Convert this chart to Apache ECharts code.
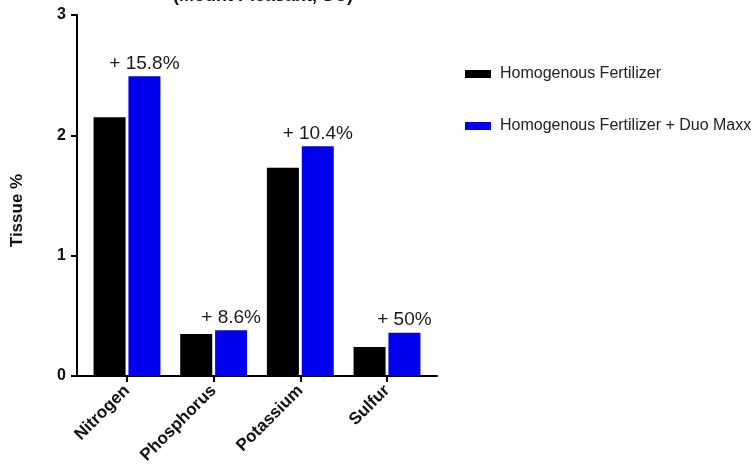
<!DOCTYPE html>
<html>
<head>
<meta charset="utf-8">
<script src="https://cdn.jsdelivr.net/npm/echarts@6/dist/echarts.min.js"></script>
<style>
  html, body { margin: 0; padding: 0; background: #fff; }
  #chart { width: 753px; height: 473px; }
</style>
</head>
<body>
<div id="chart"></div>
<script>
// Leaf tissue nutrient levels, Mount Pleasant, SC
const categories = ['Nitrogen', 'Phosphorus', 'Potassium', 'Sulfur'];
const homogenous = [2.15, 0.35, 1.73, 0.24];
const withDuoMaxx = [2.49, 0.38, 1.91, 0.36];
const gainLabels = ['+ 15.8%', '+ 8.6%', '+ 10.4%', '+ 50%'];
const yTicks = [0, 1, 2, 3];
const seriesNames = ['Homogenous Fertilizer', 'Homogenous Fertilizer + Duo Maxx'];

const FONT = 'Arial, "Liberation Sans", Helvetica, sans-serif';
const positions = categories.map((_, i) => i);

const chart = echarts.init(document.getElementById('chart'), null, { renderer: 'canvas' });

chart.setOption({
  backgroundColor: '#ffffff',
  animation: false,
  title: {
    text: '(Mount Pleasant, SC)',
    left: 258,
    textAlign: 'center',
    top: -18,
    textStyle: { fontFamily: FONT, fontSize: 18, fontWeight: 'bold', color: '#111' }
  },
  legend: {
    orient: 'vertical',
    left: 460,
    top: 61,
    itemWidth: 26,
    itemHeight: 8,
    itemGap: 36,
    icon: 'rect',
    textStyle: { fontFamily: FONT, fontSize: 16, color: '#222', padding: [0, 0, 0, 4] },
    data: seriesNames
  },
  grid: { left: 77, right: 316, top: 15, bottom: 97, containLabel: false },
  xAxis: {
    type: 'value',
    min: -0.577,
    max: 3.577,
    splitLine: { show: false },
    axisLine: { show: true, onZero: false, lineStyle: { color: '#000', width: 2 } },
    axisTick: {
      show: true,
      customValues: positions,
      length: 6,
      lineStyle: { color: '#000', width: 2 }
    },
    axisLabel: {
      customValues: positions,
      rotate: 45,
      margin: 12,
      fontFamily: FONT,
      fontSize: 17,
      fontWeight: 'bold',
      color: '#111',
      formatter: v => categories[Math.round(v)] || ''
    }
  },
  yAxis: {
    type: 'value',
    min: 0,
    max: 3,
    interval: 1,
    name: 'Tissue %',
    nameLocation: 'middle',
    nameGap: 51,
    nameTextStyle: {
      fontFamily: FONT, fontSize: 17, fontWeight: 'bold', color: '#111',
      padding: [0, 30, 0, 0]
    },
    splitLine: { show: false },
    axisLine: { show: true, onZero: false, lineStyle: { color: '#000', width: 2 } },
    axisTick: { show: true, inside: false, length: 6, lineStyle: { color: '#000', width: 2 } },
    axisLabel: {
      margin: 11,
      fontFamily: FONT,
      fontSize: 16,
      fontWeight: 'bold',
      color: '#111',
      formatter: v => (yTicks.includes(v) ? String(v) : '')
    }
  },
  series: [
    {
      name: seriesNames[0],
      type: 'bar',
      barWidth: 32,
      barGap: '9%',
      itemStyle: { color: '#000000' },
      data: homogenous.map((v, i) => [positions[i], v])
    },
    {
      name: seriesNames[1],
      type: 'bar',
      barWidth: 32,
      barGap: '9%',
      itemStyle: { color: '#0000ee' },
      label: {
        show: true,
        position: 'top',
        distance: 3,
        fontFamily: FONT,
        fontSize: 19,
        color: '#1a1a1a',
        formatter: p => gainLabels[p.dataIndex]
      },
      data: withDuoMaxx.map((v, i) => [positions[i], v])
    }
  ]
});
</script>
</body>
</html>
